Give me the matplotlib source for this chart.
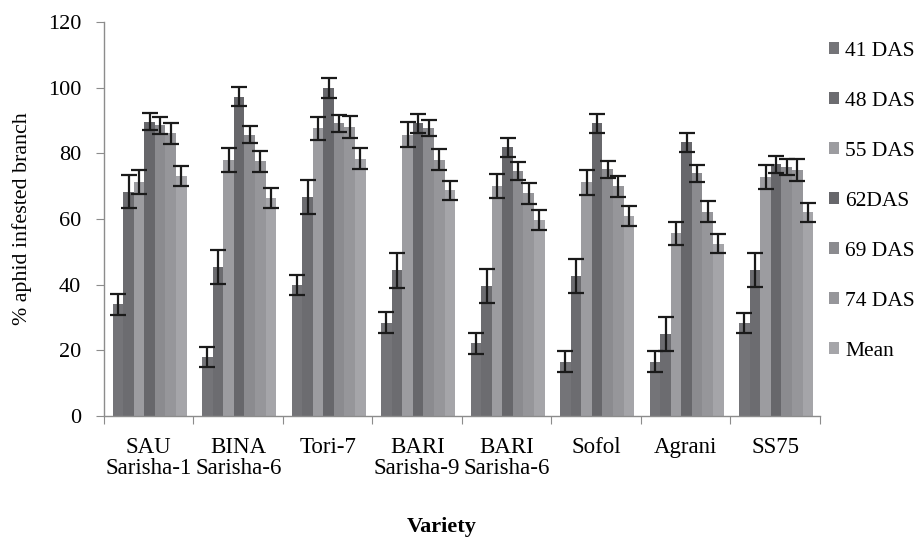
import numpy as np
import matplotlib.pyplot as plt

plt.rcParams['font.family'] = ['Liberation Serif', 'DejaVu Serif']

varieties = ["SAU\nSarisha-1", "BINA\nSarisha-6", "Tori-7", "BARI\nSarisha-9",
             "BARI\nSarisha-6", "Sofol", "Agrani", "SS75"]
series_names = ["41 DAS", "48 DAS", "55 DAS", "62DAS", "69 DAS", "74 DAS", "Mean"]

# % infested branch per variety, one list per sampling date
das41 = [34.0, 17.9, 39.8, 28.4, 22.1, 16.5, 16.5, 28.4]
das48 = [68.3, 45.4, 66.8, 44.4, 39.6, 42.6, 24.9, 44.4]
das55 = [71.2, 77.9, 87.6, 85.7, 70.0, 71.2, 55.6, 72.7]
das62 = [89.6, 97.2, 100.0, 89.1, 81.8, 89.1, 83.4, 76.6]
das69 = [88.5, 85.7, 89.1, 87.7, 74.6, 75.1, 73.9, 75.9]
das74 = [86.1, 77.6, 88.1, 78.1, 67.8, 70.0, 62.2, 74.9]
mean_vals = [73.0, 66.5, 78.4, 68.7, 59.7, 60.9, 52.4, 62.0]

# standard errors
err41 = [3.1, 3.1, 3.0, 3.2, 3.2, 3.2, 3.2, 3.1]
err48 = [5.0, 5.2, 5.2, 5.3, 5.2, 5.1, 5.2, 5.1]
err55 = [3.7, 3.7, 3.6, 3.7, 3.7, 3.8, 3.5, 3.7]
err62 = [2.6, 2.9, 3.0, 2.8, 2.9, 2.8, 2.9, 2.7]
err69 = [2.5, 2.6, 2.5, 2.5, 2.7, 2.5, 2.5, 2.5]
err74 = [3.2, 3.2, 3.3, 3.2, 3.2, 3.2, 3.2, 3.3]
err_mean = [3.0, 3.0, 3.1, 3.0, 3.0, 3.0, 2.9, 3.0]

values = [das41, das48, das55, das62, das69, das74, mean_vals]
errors = [err41, err48, err55, err62, err69, err74, err_mean]
colors = ['#747478', '#6c6c70', '#9c9ca0', '#67676b', '#8b8b8f', '#96969a', '#a5a5a9']

fig = plt.figure(figsize=(9.2, 5.37), dpi=100)
ax = fig.add_axes([104 / 920, 1 - 416 / 537, 716 / 920, 394 / 537])

x = np.arange(len(varieties))
width = 0.118
for i, (vals, errs) in enumerate(zip(values, errors)):
    pos = x + (i - 3) * width + 0.01
    ax.bar(pos, vals, width, color=colors[i], label=series_names[i], zorder=2)
    ax.errorbar(pos, vals, yerr=errs, fmt='none', ecolor='#1a1a1a',
                elinewidth=1.6, capsize=6, capthick=1.6, zorder=3)

ax.set_xlim(-0.5, len(varieties) - 0.5)
ax.set_ylim(0, 120)
ax.set_yticks(np.arange(0, 121, 20))

# boundary ticks between groups, labels in the middle
ax.set_xticks(np.arange(-0.5, len(varieties), 1.0))
ax.set_xticklabels([])
ax.set_xticks(x, minor=True)
ax.set_xticklabels(varieties, minor=True, fontsize=16.5, linespacing=1.0)
ax.tick_params(axis='x', which='minor', length=0, pad=15)
ax.tick_params(axis='x', which='major', length=6, color='#8c8c8c', direction='out')
ax.tick_params(axis='y', length=6, color='#8c8c8c', labelsize=16, pad=10.5)

for side in ['top', 'right']:
    ax.spines[side].set_visible(False)
for side in ['left', 'bottom']:
    ax.spines[side].set_color('#8c8c8c')
    ax.spines[side].set_linewidth(1.0)

ax.set_ylabel('% aphid infested branch', fontsize=15.8)
ax.yaxis.set_label_coords(-0.101, 0.5)
fig.text(442 / 920, 1 - 527 / 537, 'Variety', fontsize=16, fontweight='bold',
         ha='center', va='center')

ax.legend(loc='upper left', bbox_to_anchor=(829 / 920, 1 - 42 / 537),
          bbox_transform=fig.transFigure, frameon=False, fontsize=15.5,
          handlelength=0.46, handleheight=0.46, handletextpad=0.3,
          labelspacing=1.44, borderaxespad=0, borderpad=0)

fig.savefig('out.png', dpi=100)
